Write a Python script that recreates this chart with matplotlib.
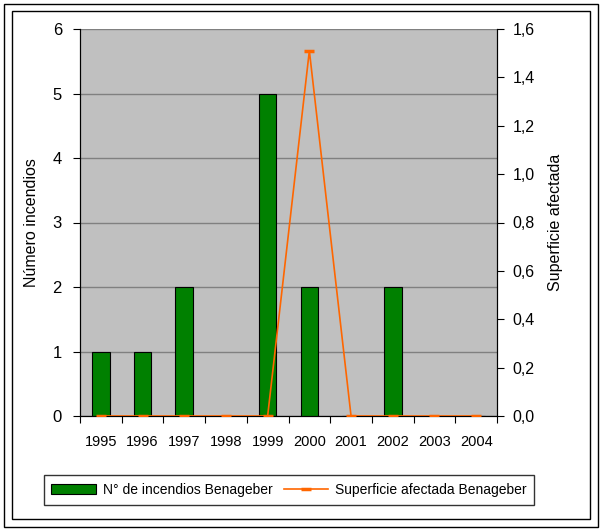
import numpy as np
import matplotlib.pyplot as plt
import matplotlib as mpl
from matplotlib.patches import Rectangle

mpl.rc('font', family='Liberation Sans', size=11)

anios = ['1995', '1996', '1997', '1998', '1999', '2000', '2001', '2002', '2003', '2004']
incendios = [1, 1, 2, 0, 5, 2, 0, 2, 0, 0]
superficie = [0, 0, 0, 0, 0, 1.51, 0, 0, 0, 0]

fig = plt.figure(figsize=(6.02, 5.31), dpi=100)
# marcos exteriores
fig.patches.append(Rectangle((4/602, 4/531), 594/602, 523/531, transform=fig.transFigure,
                             fill=False, ec='black', lw=1))
fig.patches.append(Rectangle((12/602, 12/531), 578/602, 508/531, transform=fig.transFigure,
                             fill=False, ec='black', lw=1))

ax = fig.add_axes([80/602, 1 - 416/531, 417/602, 387/531])
ax.set_facecolor('#c0c0c0')
x = np.arange(len(anios))
barras = ax.bar(x, incendios, width=0.42, color='#008000', edgecolor='black', lw=0.8,
                label='N° de incendios Benageber', zorder=3)
ax.set_xlim(-0.5, len(anios) - 0.5)
ax.set_ylim(0, 6)
ax.set_yticks(range(7))
ax.yaxis.grid(True, color='#808080', lw=1, zorder=1)
ax.set_xticks(np.arange(-0.5, len(anios), 1))
ax.set_xticklabels([])
ax.set_xticks(x, minor=True)
ax.set_xticklabels(anios, minor=True, fontsize=10.5)
ax.tick_params(axis='x', which='minor', length=0, pad=14)
ax.tick_params(axis='x', which='major', length=5, color='black')
ax.tick_params(axis='y', length=5, pad=8, labelsize=12)
ax.set_ylabel('Número incendios', labelpad=10, fontsize=11.5)
ax.spines['top'].set_visible(False)

ax2 = ax.twinx()
linea, = ax2.plot(x, superficie, color='#ff6600', lw=1.2, marker='_', ms=7, mew=2.5,
                  label='Superficie afectada Benageber', zorder=4)
ax2.set_ylim(0, 1.6)
ax2.set_yticks(np.arange(0, 1.61, 0.2))
ax2.set_yticklabels([f'{v:.1f}'.replace('.', ',') for v in np.arange(0, 1.61, 0.2)])
ax2.tick_params(axis='y', length=5, pad=6, labelsize=11.5)
ax2.set_ylabel('Superficie afectada', labelpad=10, fontsize=11.5)
ax2.spines['top'].set_visible(False)

fig.legend([barras, linea], ['N° de incendios Benageber', 'Superficie afectada Benageber'],
           loc='center', bbox_to_anchor=(289/602, 1 - 490/531), ncol=2, frameon=True,
           fancybox=False, edgecolor='black', handlelength=3.2, columnspacing=0.8,
           handletextpad=0.5, borderpad=0.55, fontsize=10)

fig.savefig('out.png', dpi=100)
